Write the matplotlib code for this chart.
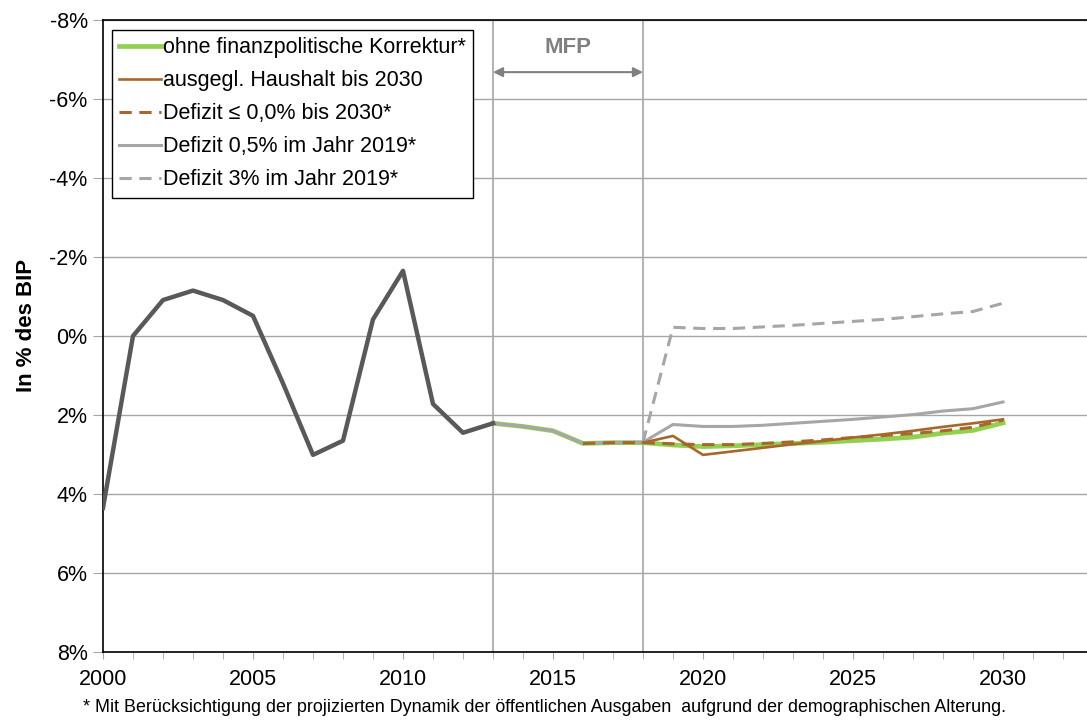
import matplotlib
matplotlib.use('Agg')
import matplotlib.pyplot as plt
from matplotlib.ticker import FuncFormatter, MultipleLocator

plt.rcParams['font.family'] = ['Liberation Sans', 'DejaVu Sans']
plt.rcParams['axes.unicode_minus'] = False

# Historical balance (positive = deficit, in % of GDP)
hist_years = list(range(2000, 2014))
hist_vals = [4.35, 0.0, -0.91, -1.15, -0.91, -0.51, 1.2, 3.01, 2.65, -0.42, -1.65, 1.72, 2.45, 2.21]

# Projection scenarios
proj_years = list(range(2013, 2031))
ohne = [2.21, 2.29, 2.40, 2.72, 2.70, 2.70, 2.76, 2.80, 2.78, 2.75, 2.72, 2.69, 2.65, 2.61, 2.56, 2.46, 2.39, 2.20]
defizit_05 = [2.21, 2.29, 2.40, 2.72, 2.70, 2.69, 2.24, 2.29, 2.29, 2.26, 2.21, 2.16, 2.11, 2.05, 1.99, 1.90, 1.84, 1.67]

years_2018 = list(range(2018, 2031))
defizit_3 = [2.69, -0.22, -0.19, -0.19, -0.23, -0.27, -0.32, -0.37, -0.42, -0.49, -0.56, -0.62, -0.83]
ausgegl = [2.70, 2.53, 3.01, 2.92, 2.83, 2.74, 2.66, 2.57, 2.49, 2.40, 2.30, 2.21, 2.11]

years_2016 = list(range(2016, 2031))
defizit_00 = [2.72, 2.70, 2.70, 2.73, 2.75, 2.75, 2.72, 2.68, 2.63, 2.57, 2.52, 2.47, 2.40, 2.31, 2.13]

green = '#92D050'
brown = '#A5682A'
grey = '#A6A6A6'
dark = '#595959'

fig = plt.figure(figsize=(10.87, 7.2), dpi=100)
ax = fig.add_axes([103 / 1087, 68 / 720, 1 - 103 / 1087, 632 / 720])

ax.plot(proj_years, ohne, color=green, lw=3.4, label='ohne finanzpolitische Korrektur*', zorder=3)
ax.plot(proj_years, defizit_05, color=grey, lw=2.2, label='Defizit 0,5% im Jahr 2019*', zorder=4)
ax.plot(years_2018, defizit_3, color=grey, lw=2.2, ls=(0, (4, 2.5)), label='Defizit 3% im Jahr 2019*', zorder=4)
ax.plot(years_2018, ausgegl, color=brown, lw=1.9, label='ausgegl. Haushalt bis 2030', zorder=5)
ax.plot(years_2016, defizit_00, color=brown, lw=2.2, ls=(0, (4, 2.5)), label='Defizit \u2264 0,0% bis 2030*', zorder=5)
ax.plot(hist_years, hist_vals, color=dark, lw=3.2, zorder=6)

ax.set_xlim(2000, 2032.8)
ax.set_ylim(8, -8)
ax.yaxis.set_major_locator(MultipleLocator(2))
ax.yaxis.set_major_formatter(FuncFormatter(lambda v, p: '%d%%' % round(v)))
ax.xaxis.set_major_locator(MultipleLocator(5))
ax.xaxis.set_minor_locator(MultipleLocator(1))
ax.grid(axis='y', color=grey, lw=1.0, zorder=0)
ax.tick_params(axis='y', length=7, color=grey, labelsize=15.5, pad=4)
ax.tick_params(axis='x', which='both', length=5, color=grey, labelsize=15.5, pad=7)

for s in ['left', 'bottom', 'top']:
    ax.spines[s].set_color('black')
    ax.spines[s].set_linewidth(1.2)
ax.spines['right'].set_visible(False)

ax.set_ylabel('In % des BIP', fontsize=16, fontweight='bold')
ax.yaxis.set_label_coords(-66 / 984, 0.516)

# MFP period
for x in (2013, 2018):
    ax.axvline(x, color=grey, lw=1.2, zorder=1)
ax.annotate('', xy=(2013, -6.68), xytext=(2018, -6.68),
            arrowprops=dict(arrowstyle='<|-|>', color='#808080', lw=1.5, mutation_scale=14, shrinkA=0, shrinkB=0))
ax.text(2015.5, -7.3, 'MFP', color='#808080', fontsize=16, fontweight='bold', ha='center', va='center')

handles, labels = ax.get_legend_handles_labels()
order = [0, 3, 4, 1, 2]
leg = ax.legend([handles[i] for i in order], [labels[i] for i in order],
                loc='upper left', bbox_to_anchor=(9 / 984, 0.984), fontsize=15.5,
                frameon=True, fancybox=False, edgecolor='black', framealpha=1,
                handlelength=1.95, handletextpad=0.1, labelspacing=0.56, borderpad=0.33,
                borderaxespad=0)
leg.get_frame().set_linewidth(1.0)
leg.set_zorder(10)

fig.text(83 / 1087, 1 - 708 / 720, '* Mit Berücksichtigung der projizierten Dynamik der öffentlichen Ausgaben  aufgrund der demographischen Alterung.',
         fontsize=12.9, ha='left', va='center')

fig.savefig('out.png', dpi=100)
